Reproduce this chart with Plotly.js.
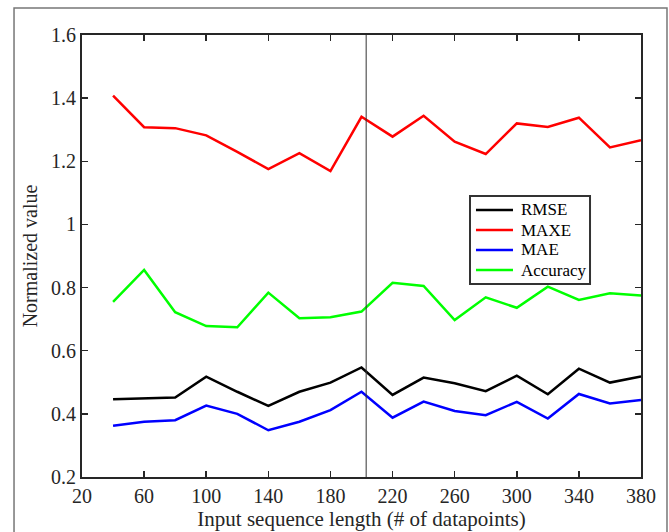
<!DOCTYPE html>
<html>
<head>
<meta charset="utf-8">
<script src="https://cdn.plot.ly/plotly-3.0.1.min.js"></script>
<style>
html,body{margin:0;padding:0;background:#fff;}
#chart{width:669px;height:532px;}
</style>
</head>
<body>
<div id="chart"></div>
<script>
const seqLen = [40,60,80,100,120,140,160,180,200,220,240,260,280,300,320,340,360,380];
const rmse = [0.446,0.450,0.452,0.518,0.470,0.425,0.470,0.499,0.547,0.460,0.515,0.497,0.472,0.521,0.462,0.543,0.499,0.518];
const maxe = [1.408,1.308,1.305,1.282,1.230,1.175,1.226,1.169,1.341,1.278,1.344,1.262,1.223,1.320,1.309,1.338,1.244,1.267];
const mae = [0.362,0.375,0.380,0.426,0.400,0.348,0.375,0.412,0.470,0.388,0.439,0.409,0.396,0.438,0.385,0.463,0.433,0.444];
const accuracy = [0.755,0.856,0.722,0.678,0.674,0.784,0.703,0.706,0.724,0.815,0.805,0.697,0.769,0.736,0.803,0.761,0.782,0.775];
const seriesNames = ["RMSE","MAXE","MAE","Accuracy"];
const splitX = 203;
const xTicks = [20,60,100,140,180,220,260,300,340,380];
const yTicks = [0.2,0.4,0.6,0.8,1.0,1.2,1.4,1.6];

const colors = ["#000000","#ff0000","#0000ff","#00ff00"];
const allY = [rmse, maxe, mae, accuracy];
const traces = allY.map((y,i)=>({
  x: seqLen, y: y, type:'scatter', mode:'lines', name: seriesNames[i],
  line:{color:colors[i], width:2.5}, showlegend:false
}));

const fam = '"Liberation Serif", "Times New Roman", serif';
const axisCommon = {
  showline:true, linecolor:'#262626', linewidth:2, mirror:'ticks',
  ticks:'inside', ticklen:6, tickwidth:1.5, tickcolor:'#262626',
  showgrid:false, zeroline:false,
  tickfont:{family:fam, size:20, color:'#262626'}
};

// manual legend box (paper coordinates)
const lg = {x0:0.6941, x1:0.9088, y0:0.4367, y1:0.6357, lineX0:0.7048, lineX1:0.7710, textX:0.7818, rowY:[0.6041,0.5588,0.5136,0.4683]};
const shapes = [
  {type:'line', xref:'x', yref:'paper', x0:splitX, x1:splitX, y0:0, y1:1, line:{color:'#333', width:1}},
  {type:'rect', xref:'paper', yref:'paper', x0:-0.1216, x1:1.0465, y0:-0.3, y1:1.0611,
   line:{color:'#777', width:1.5}, fillcolor:'rgba(0,0,0,0)', layer:'below'},
  {type:'rect', xref:'paper', yref:'paper', x0:lg.x0, x1:lg.x1, y0:lg.y0, y1:lg.y1,
   line:{color:'#333', width:2}, fillcolor:'#ffffff', layer:'above'}
];
const annotations = [];
seriesNames.forEach((n,i)=>{
  shapes.push({type:'line', xref:'paper', yref:'paper', x0:lg.lineX0, x1:lg.lineX1, y0:lg.rowY[i], y1:lg.rowY[i],
    line:{color:colors[i], width:2.5}, layer:'above'});
  annotations.push({xref:'paper', yref:'paper', x:lg.textX, y:lg.rowY[i], xanchor:'left', yanchor:'middle',
    text:n, showarrow:false, font:{family:fam, size:17, color:'#000'}});
});

const layout = {
  width:669, height:532,
  margin:{l:82, r:28, t:35, b:55},
  paper_bgcolor:'#fff', plot_bgcolor:'#fff',
  font:{family:fam, color:'#262626'},
  showlegend:false,
  xaxis: Object.assign({}, axisCommon, {
    range:[20,380], tickmode:'array', tickvals:xTicks, ticktext:xTicks.map(String),
    title:{text:'Input sequence length (# of datapoints)', font:{family:fam, size:21, color:'#262626'}, standoff:4}
  }),
  yaxis: Object.assign({}, axisCommon, {
    range:[0.2,1.6], tickmode:'array', tickvals:yTicks, ticktext:yTicks.map(v=>String(+v.toFixed(1))),
    title:{text:'Normalized value', font:{family:fam, size:20, color:'#262626'}, standoff:8}
  }),
  shapes: shapes,
  annotations: annotations
};

Plotly.newPlot('chart', traces, layout, {displayModeBar:false, staticPlot:true});
</script>
</body>
</html>
